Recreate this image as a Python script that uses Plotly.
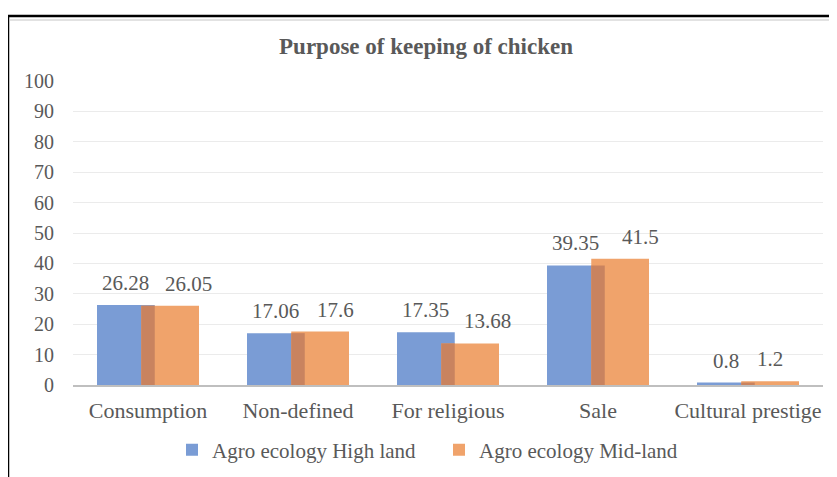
import plotly.graph_objects as go

categories = ["Consumption", "Non-defined", "For religious", "Sale", "Cultural prestige"]
high_land = [26.28, 17.06, 17.35, 39.35, 0.8]
mid_land = [26.05, 17.6, 13.68, 41.5, 1.2]
series_names = ["Agro ecology High land", "Agro ecology Mid-land"]
y_ticks = [0, 10, 20, 30, 40, 50, 60, 70, 80, 90, 100]

# label nudges (px) as in the source chart, style only
mid_label_dx = [18, 15, 17, 20, 0]

BLUE = "#7A9CD5"
ORANGE = "#F0A36B"
OVERLAP = "#C9835F"
TXT = "#595959"
FONT = "Liberation Serif"

PAGE = 8  # default body margin of the html page
W = 837 - PAGE
H = 477 - PAGE
# plot area in window px
L, R, T, B = 73, 823, 81, 385

def px_x(p):
    return (p - L) / (R - L)

def px_y(p):
    return (B - p) / (B - T)

CAT_PX = (R - L) / len(categories)
b_off, b_w = -0.34, 0.385
o_off, o_w = -0.045, 0.385
overlap = [min(a, b) for a, b in zip(high_land, mid_land)]

fig = go.Figure()
fig.add_trace(go.Bar(
    x=categories, y=high_land, name=series_names[0],
    marker=dict(color=BLUE, line=dict(width=0)),
    offset=b_off, width=b_w,
))
fig.add_trace(go.Bar(
    x=categories, y=mid_land, name=series_names[1],
    marker=dict(color=ORANGE, line=dict(width=0)),
    offset=o_off, width=o_w,
))
fig.add_trace(go.Bar(
    x=categories, y=overlap, showlegend=False, hoverinfo="skip",
    marker=dict(color=OVERLAP, line=dict(width=0)),
    offset=o_off, width=(b_off + b_w) - o_off,
))

annotations = []
for vals, off, w, dxs in ((high_land, b_off, b_w, [0] * len(categories)),
                          (mid_land, o_off, o_w, mid_label_dx)):
    for c, v, dx in zip(categories, vals, dxs):
        annotations.append(dict(
            x=c, y=v, xref="x", yref="y", text=f"{v:g}", showarrow=False,
            xanchor="center", yanchor="bottom",
            xshift=(off + w / 2) * CAT_PX + dx, yshift=8,
            font=dict(family=FONT, size=21, color=TXT),
        ))

fig.update_layout(
    width=W, height=H,
    barmode="overlay",
    paper_bgcolor="white", plot_bgcolor="white",
    margin=dict(l=L - PAGE, r=837 - R, t=T - PAGE, b=477 - B, autoexpand=False),
    font=dict(family=FONT, color=TXT, size=20),
    title=dict(
        text="<b>Purpose of keeping of chicken</b>",
        x=(426 - PAGE) / W, xanchor="center", xref="container",
        y=1 - (46 - PAGE) / H, yanchor="middle", yref="container",
        font=dict(family=FONT, size=23, color=TXT),
    ),
    legend=dict(
        orientation="h", x=px_x(172), xanchor="left",
        y=px_y(450), yanchor="middle",
        font=dict(family=FONT, size=21, color=TXT),
        itemwidth=30, tracegroupgap=0,
        entrywidth=222, entrywidthmode="pixels",
        bgcolor="rgba(0,0,0,0)",
    ),
    showlegend=True,
    annotations=annotations,
    xaxis=dict(
        showgrid=False, showline=True, linecolor="#BFBFBF", linewidth=2,
        tickfont=dict(family=FONT, size=22, color=TXT),
        ticks="", ticklabelstandoff=5, fixedrange=True,
    ),
    yaxis=dict(
        range=[0, 100], tickvals=y_ticks, ticktext=[str(v) for v in y_ticks],
        showgrid=True, gridcolor="#EBEBEB", gridwidth=1,
        zeroline=False, showline=False,
        tickfont=dict(family=FONT, size=20, color=TXT),
        ticks="", ticklabelstandoff=18, fixedrange=True,
    ),
    shapes=[
        dict(type="line", xref="paper", yref="paper",
             x0=px_x(8), x1=px_x(845), y0=px_y(16), y1=px_y(16),
             line=dict(color="black", width=2.5)),
        dict(type="line", xref="paper", yref="paper",
             x0=px_x(10), x1=px_x(845), y0=px_y(20), y1=px_y(20),
             line=dict(color="#D9D9D9", width=1.5)),
        dict(type="line", xref="paper", yref="paper",
             x0=px_x(8), x1=px_x(8), y0=px_y(15), y1=px_y(485),
             line=dict(color="black", width=2.5)),
    ],
)

fig.write_html("out.html")
